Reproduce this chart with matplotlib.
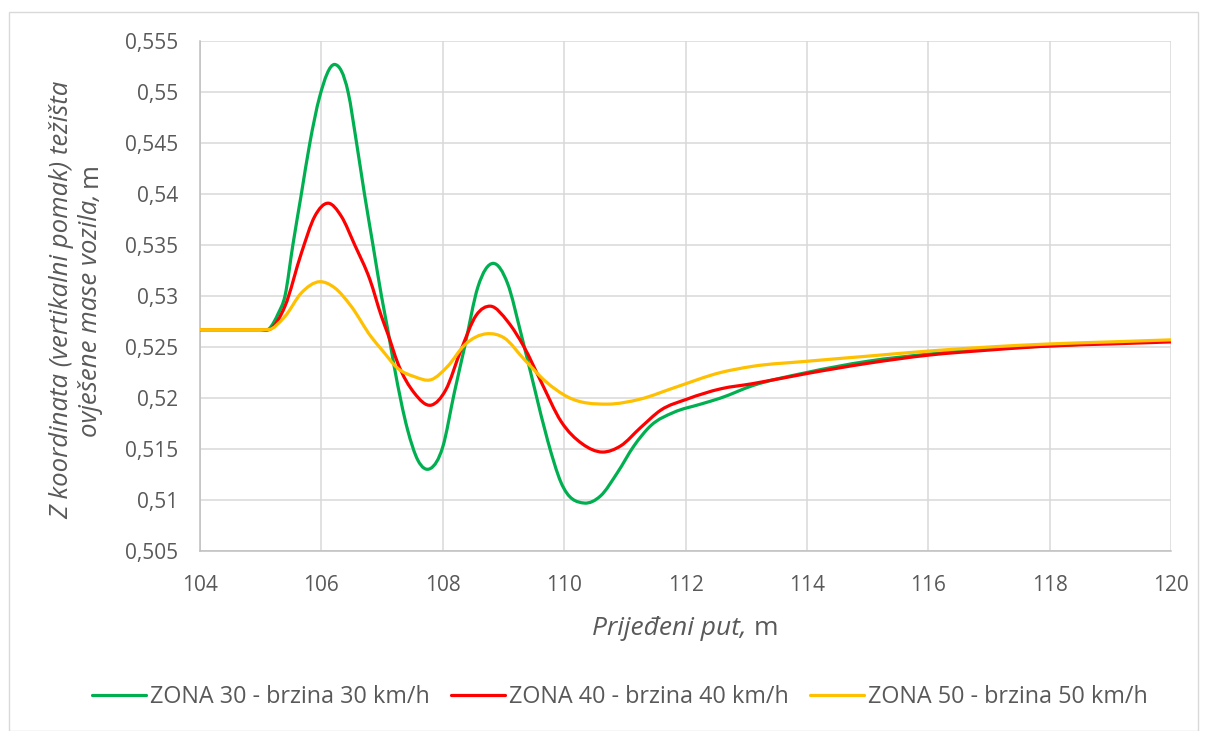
import matplotlib
matplotlib.use("Agg")
import matplotlib.pyplot as plt
from matplotlib.patches import Rectangle, PathPatch
from matplotlib.path import Path
from matplotlib.lines import Line2D

FONT = 'Open Sans'
plt.rcParams['font.family'] = [FONT, 'DejaVu Sans']

# ---- data ----
x_green = [104.0, 105.0, 105.14, 105.29, 105.40, 105.53, 105.67, 105.81, 105.97, 106.22, 106.44,
           106.58, 106.71, 106.85, 106.99, 107.10, 107.20, 107.42, 107.59, 107.80, 108.00, 108.19,
           108.36, 108.58, 108.83, 109.07, 109.29, 109.51, 109.73, 109.95, 110.33, 110.60, 110.88,
           111.15, 111.43, 111.81, 112.25, 112.58, 113.1, 114.0, 115.0, 116.0, 117.0, 118.0, 119.0, 120.0]
y_green = [0.5267, 0.5267, 0.5268, 0.5283, 0.5300, 0.5350, 0.5400, 0.5450, 0.5495, 0.5527, 0.5500,
           0.5450, 0.5400, 0.5350, 0.5300, 0.5265, 0.5231, 0.5169, 0.5139, 0.5131, 0.5152, 0.5205,
           0.5250, 0.5309, 0.5332, 0.5312, 0.5263, 0.5210, 0.5158, 0.5117, 0.5097, 0.5104, 0.5127,
           0.5153, 0.5173, 0.5186, 0.5194, 0.5200, 0.5212, 0.5225, 0.5236, 0.5243, 0.5248, 0.5251, 0.5254, 0.5256]

x_red = [104.0, 105.0, 105.17, 105.40, 105.67, 105.89, 106.11, 106.33, 106.55, 106.80, 106.99, 107.10,
         107.26, 107.53, 107.81, 108.05, 108.30, 108.55, 108.79, 109.07, 109.34, 109.62, 109.95, 110.30,
         110.63, 110.93, 111.26, 111.59, 112.03, 112.58, 113.1, 114.0, 115.0, 116.0, 117.0, 118.0, 119.0, 120.0]
y_red = [0.5267, 0.5267, 0.5268, 0.5290, 0.5342, 0.5378, 0.5391, 0.5378, 0.5350, 0.5316, 0.5280, 0.5262,
         0.5234, 0.5205, 0.5193, 0.5208, 0.5247, 0.5281, 0.5290, 0.5275, 0.5250, 0.5216, 0.5177, 0.5155,
         0.5147, 0.5153, 0.5171, 0.5188, 0.5199, 0.5209, 0.5214, 0.5224, 0.5234, 0.5242, 0.5247, 0.5251, 0.5253, 0.5255]

x_yellow = [104.0, 105.12, 105.40, 105.67, 105.97, 106.22, 106.49, 106.82, 107.0, 107.26, 107.53, 107.81,
            108.08, 108.36, 108.73, 109.01, 109.34, 109.70, 110.06, 110.71, 111.26, 111.81, 112.58, 113.1,
            114.0, 115.0, 116.0, 117.0, 118.0, 119.0, 120.0]
y_yellow = [0.5267, 0.5267, 0.5280, 0.5303, 0.5314, 0.5308, 0.5290, 0.5260, 0.5247, 0.5229, 0.5221, 0.5218,
            0.5231, 0.5252, 0.5263, 0.5259, 0.5238, 0.5216, 0.5201, 0.5194, 0.5199, 0.5210, 0.5225, 0.5231,
            0.5236, 0.5241, 0.5246, 0.5250, 0.5253, 0.5255, 0.5257]

labels = ["ZONA 30 - brzina 30 km/h", "ZONA 40 - brzina 40 km/h", "ZONA 50 - brzina 50 km/h"]
colors = ["#00B050", "#FF0000", "#FFC000"]

x_ticks = [104, 106, 108, 110, 112, 114, 116, 118, 120]
y_ticks = [0.505, 0.51, 0.515, 0.52, 0.525, 0.53, 0.535, 0.54, 0.545, 0.55, 0.555]
y_tick_labels = ["0,505", "0,51", "0,515", "0,52", "0,525", "0,53", "0,535", "0,54", "0,545", "0,55", "0,555"]

x_title_it = "Prijeđeni put,"
y_title_line1 = "Z koordinata (vertikalni pomak) težišta"
y_title_line2_it = "ovješene mase vozila,"
unit = "m"


def smooth_path(xs, ys):
    """Cubic Hermite (Bezier) path through the data points, like a smoothed spreadsheet line."""
    n = len(xs)
    h = [xs[i + 1] - xs[i] for i in range(n - 1)]
    d = [(ys[i + 1] - ys[i]) / h[i] for i in range(n - 1)]
    m = [0.0] * n
    m[0], m[-1] = d[0], d[-1]
    for i in range(1, n - 1):
        if d[i - 1] == 0 or d[i] == 0:
            m[i] = 0.0
        else:
            m[i] = (h[i] * d[i - 1] + h[i - 1] * d[i]) / (h[i - 1] + h[i])
    verts = [(xs[0], ys[0])]
    codes = [Path.MOVETO]
    for i in range(n - 1):
        verts += [(xs[i] + h[i] / 3, ys[i] + m[i] * h[i] / 3),
                  (xs[i + 1] - h[i] / 3, ys[i + 1] - m[i + 1] * h[i] / 3),
                  (xs[i + 1], ys[i + 1])]
        codes += [Path.CURVE4] * 3
    return Path(verts, codes)


# ---- figure ----
W, H = 1208, 731
fig = plt.figure(figsize=(W / 100, H / 100), dpi=100)
fig.patches.append(Rectangle((9 / W, 0), (1198 - 9) / W, 1 - 12 / H, transform=fig.transFigure,
                             fill=False, edgecolor="#d9d9d9", linewidth=1.0))

ax = fig.add_axes([200 / W, 1 - 551 / H, (1171 - 200) / W, (551 - 41) / H])

handles = []
for xs, ys, c, lab in zip([x_green, x_red, x_yellow], [y_green, y_red, y_yellow], colors, labels):
    ax.add_patch(PathPatch(smooth_path(xs, ys), facecolor='none', edgecolor=c, linewidth=2.3,
                           capstyle='round', joinstyle='round', zorder=3))
    handles.append(Line2D([], [], color=c, linewidth=2.3, solid_capstyle='round', label=lab))

ax.set_xlim(104, 120)
ax.set_ylim(0.505, 0.555)
ax.set_xticks(x_ticks)
ax.set_xticklabels([str(t) for t in x_ticks])
ax.set_yticks(y_ticks)
ax.set_yticklabels(y_tick_labels)
ax.grid(True, color="#d9d9d9", linewidth=1.1)
ax.set_axisbelow(True)
for s in ["top", "right"]:
    ax.spines[s].set_visible(False)
for s in ["left", "bottom"]:
    ax.spines[s].set_color("#bfbfbf")
    ax.spines[s].set_linewidth(1.1)
ax.tick_params(length=0, labelsize=15, labelcolor="#595959")
ax.tick_params(axis='y', pad=16)
ax.tick_params(axis='x', pad=17)

# ---- axis titles (italic text + upright unit) ----
TFS = 19
YFS = 18.5
TCOL = "#595959"
renderer = fig.canvas.get_renderer()


def text_width(s, style, fs):
    t = fig.text(0, 0, s, fontsize=fs, style=style)
    w = t.get_window_extent(renderer).width
    t.remove()
    return w


# x title, baseline at y = 635 px, centred at x = 685 px
w_sp = text_width("m m", "normal", TFS) - 2 * text_width("m", "normal", TFS)
w_xit = text_width(x_title_it, "italic", TFS)
w_m = text_width(unit, "normal", TFS)
x0 = 685 - (w_xit + w_sp + w_m) / 2
ybase = 635
fig.text(x0 / W, 1 - ybase / H, x_title_it, fontsize=TFS, style='italic', color=TCOL,
         ha='left', va='baseline')
fig.text((x0 + w_xit + w_sp) / W, 1 - ybase / H, unit, fontsize=TFS, color=TCOL,
         ha='left', va='baseline')

# y title: two rotated lines centred at y = 300 px
yc = 300
w_sp = text_width("m m", "normal", YFS) - 2 * text_width("m", "normal", YFS)
w_m = text_width(unit, "normal", YFS)
w1 = text_width(y_title_line1, "italic", YFS)
fig.text(68 / W, 1 - (yc + w1 / 2) / H, y_title_line1, fontsize=YFS, style='italic', color=TCOL,
         rotation=90, rotation_mode='anchor', ha='left', va='baseline')
w2 = text_width(y_title_line2_it, "italic", YFS)
start = yc + (w2 + w_sp + w_m) / 2
fig.text(97 / W, 1 - start / H, y_title_line2_it, fontsize=YFS, style='italic', color=TCOL,
         rotation=90, rotation_mode='anchor', ha='left', va='baseline')
fig.text(97 / W, 1 - (start - w2 - w_sp) / H, unit, fontsize=YFS, color=TCOL,
         rotation=90, rotation_mode='anchor', ha='left', va='baseline')

leg = fig.legend(handles=handles, loc="center", bbox_to_anchor=(620 / W, 1 - 697 / H), ncol=3,
                 frameon=False, fontsize=16.8, handlelength=2.3, columnspacing=0.9, handletextpad=0.2)
for t in leg.get_texts():
    t.set_color("#595959")

fig.savefig("out.png", dpi=100)
